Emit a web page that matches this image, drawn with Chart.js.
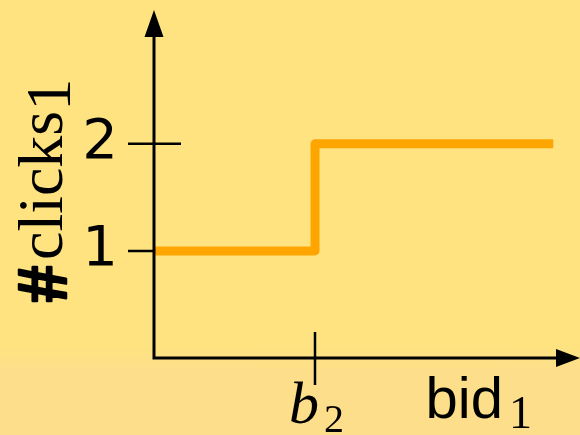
<!DOCTYPE html>
<html>
<head>
<meta charset="utf-8">
<script src="https://cdn.jsdelivr.net/npm/chart.js@4/dist/chart.umd.min.js"></script>
<style>
  html, body { margin: 0; padding: 0; }
  body {
    width: 580px; height: 435px; overflow: hidden;
    background: linear-gradient(to bottom, #FEE380 0px, #FEE380 345px, #FDDE8A 372px, #FDDE8A 435px);
  }
  #wrap { width: 580px; height: 435px; position: relative; }
</style>
</head>
<body>
<div id="wrap"><canvas id="c"></canvas></div>
<script>
// ---- data ----
const bidValues = [0, 1, 2.48];        // bid_1 positions (b_2 = 1)
const clickValues = [1, 2, 2];         // #clicks_1
const yTickValues = [1, 2];
const yTickLabels = ['1', '2'];
const xTickValues = [1];
const xTickLabels = [['b', '2']];      // main, subscript
const xTitle = ['bid', '1'];           // main, subscript
const yTitle = ['#', 'clicks', '1'];   // hash, main, subscript

const points = bidValues.map((x, i) => ({ x: x, y: clickValues[i] }));

const axesPlugin = {
  id: 'axesCross',
  beforeDatasetsDraw(chart) {
    const { ctx, scales: { x, y } } = chart;
    const x0 = x.getPixelForValue(0), y0 = y.getPixelForValue(0);
    ctx.save();
    ctx.strokeStyle = '#000';
    ctx.lineWidth = 2.5;
    ctx.beginPath();
    yTickValues.forEach(v => {
      const py = y.getPixelForValue(v);
      ctx.moveTo(x0 - 26, py); ctx.lineTo(x0 + 27, py);
    });
    xTickValues.forEach(v => {
      const px = x.getPixelForValue(v);
      ctx.moveTo(px, y0 - 26); ctx.lineTo(px, y0 + 27);
    });
    ctx.stroke();
    ctx.restore();
  },
  afterDatasetsDraw(chart) {
    const { ctx, scales: { x, y } } = chart;
    const x0 = x.getPixelForValue(0), y0 = y.getPixelForValue(0);
    const yTip = y.getPixelForValue(y.max);
    const xTip = x.getPixelForValue(x.max);
    ctx.save();
    ctx.strokeStyle = '#000';
    ctx.fillStyle = '#000';
    ctx.lineWidth = 3;
    ctx.lineJoin = 'miter';
    ctx.beginPath();
    ctx.moveTo(x0, yTip + 20);
    ctx.lineTo(x0, y0);
    ctx.lineTo(xTip - 18, y0);
    ctx.stroke();
    ctx.beginPath();
    ctx.moveTo(x0, yTip);
    ctx.lineTo(x0 - 9.5, yTip + 27);
    ctx.lineTo(x0 + 9.5, yTip + 27);
    ctx.closePath();
    ctx.fill();
    ctx.beginPath();
    ctx.moveTo(xTip, y0);
    ctx.lineTo(xTip - 24, y0 - 9);
    ctx.lineTo(xTip - 24, y0 + 9);
    ctx.closePath();
    ctx.fill();

    // x tick labels (b_2)
    ctx.textBaseline = 'alphabetic';
    ctx.textAlign = 'left';
    xTickValues.forEach((v, i) => {
      const px = x.getPixelForValue(v);
      const [main, sub] = xTickLabels[i];
      ctx.font = 'italic 60px "Liberation Serif"';
      ctx.fillText(main, px - 26, y0 + 65);
      const w = ctx.measureText(main).width;
      ctx.font = '40px "Liberation Serif"';
      ctx.fillText(sub, px - 26 + w + 5, y0 + 74);
    });

    // x title: bid_1
    ctx.font = '58px "Liberation Sans"';
    const xt = xTitle[0];
    const xtW = ctx.measureText(xt).width;
    ctx.font = '46px "Liberation Serif"';
    const subW = ctx.measureText(xTitle[1]).width;
    const xEnd = xTip - 48;
    const xStart = xEnd - subW - 6 - xtW;
    ctx.font = '58px "Liberation Sans"';
    ctx.fillText(xt, xStart, y0 + 60);
    ctx.font = '46px "Liberation Serif"';
    ctx.fillText(xTitle[1], xStart + xtW + 6, y0 + 70);

    // y title: #clicks_1 (rotated)
    ctx.translate(x0 - 92, y0 - 56);
    ctx.rotate(-Math.PI / 2);
    ctx.font = 'bold 72px "Liberation Serif"';
    ctx.lineWidth = 2.5;
    ctx.lineJoin = 'round';
    ctx.fillText(yTitle[0], 0, 4);
    ctx.strokeText(yTitle[0], 0, 4);
    let off = ctx.measureText(yTitle[0]).width + 6;
    ctx.font = '64px "Liberation Serif"';
    ctx.fillText(yTitle[1], off, 0);
    off += ctx.measureText(yTitle[1]).width;
    ctx.fillText(yTitle[2], off, 8);
    ctx.restore();
  }
};

new Chart(document.getElementById('c'), {
  type: 'line',
  data: {
    datasets: [{
      data: points,
      borderColor: '#FFA500',
      borderWidth: 9,
      stepped: 'before',
      pointRadius: 0,
      fill: false,
      clip: false,
      borderCapStyle: 'butt',
      borderJoinStyle: 'round'
    }]
  },
  options: {
    responsive: true,
    maintainAspectRatio: false,
    animation: false,
    events: [],
    layout: { padding: { left: 0, right: 0, top: 10, bottom: 0 } },
    plugins: { legend: { display: false }, tooltip: { enabled: false } },
    scales: {
      x: {
        type: 'linear',
        min: 0,
        max: 2.646,
        afterBuildTicks: s => { s.ticks = xTickValues.map(v => ({ value: v })); },
        afterFit: s => { s.height = 77; s.paddingLeft = 0; s.paddingRight = 0; },
        ticks: { display: false },
        grid: { display: false },
        border: { display: false },
        title: { display: false }
      },
      y: {
        type: 'linear',
        min: 0,
        max: 3.25,
        afterBuildTicks: s => { s.ticks = yTickValues.map(v => ({ value: v })); },
        afterFit: s => { s.width = 154; s.paddingTop = 0; s.paddingBottom = 0; },
        ticks: {
          callback: (v) => { const i = yTickValues.indexOf(v); return i >= 0 ? yTickLabels[i] : ''; },
          font: { family: 'DejaVu Sans', size: 56 },
          color: '#000',
          padding: 10
        },
        grid: { display: true, color: 'transparent', drawOnChartArea: false, drawTicks: true, tickLength: 26 },
        border: { display: false },
        title: { display: false }
      }
    }
  },
  plugins: [axesPlugin]
});
</script>
</body>
</html>
